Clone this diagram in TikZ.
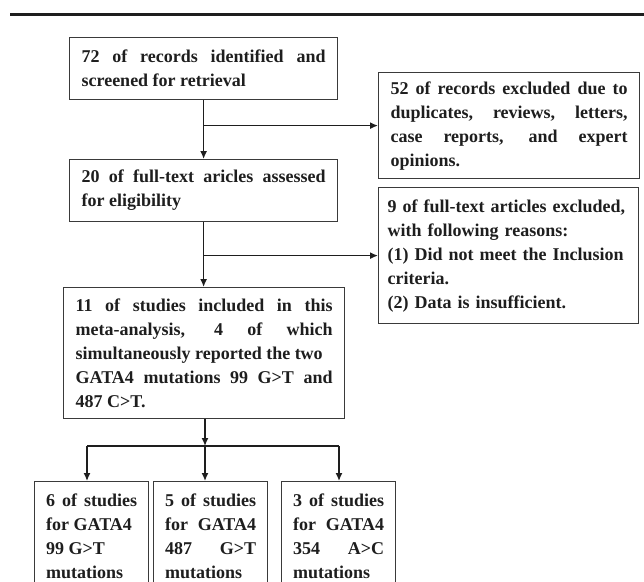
\documentclass[tikz,border=0pt]{standalone}
\usepackage{fontspec}
\setmainfont{Liberation Serif}
\usepackage{xcolor}
\usetikzlibrary{arrows.meta}
\definecolor{boxgray}{HTML}{3A3A3A}
\definecolor{ink}{HTML}{1E1E1E}
\hyphenpenalty=10000
\exhyphenpenalty=10000

\begin{document}
\begin{tikzpicture}[x=1pt, y=1pt,
    box/.style={draw=boxgray, line width=1.2pt, anchor=north west, inner xsep=12pt, inner ysep=4pt,
        align=justify, text=ink, font=\bfseries\fontsize{18}{24}\selectfont},
    leaf/.style={box, inner xsep=11.5pt, text width=91pt, minimum height=109pt},
    arr/.style={draw=ink, line width=1.4pt, -{Latex[length=8pt, width=7pt]}},
    link/.style={draw=ink, line width=1.4pt}]
    \useasboundingbox (0,0) rectangle (644,-581);
    \clip (0,0) rectangle (644,-581);

    % top rule
    \draw[ink, line width=3.4pt] (10,-14.5) -- (644,-14.5);

    % main column
    \node[box, text width=244pt, minimum height=62pt] (recs) at (69,-37)
        {72 of records identified and\linebreak screened for retrieval};
    \node[box, text width=244pt, minimum height=62pt] (full) at (69,-159)
        {20 of full-text aricles assessed\linebreak for eligibility};
    \node[box, text width=257pt, minimum height=131pt] (incl) at (63,-287)
        {11 of studies included in this\linebreak meta-analysis, 4 of which\linebreak
         simultaneously reported the two\newline GATA4 mutations 99 G>T and\linebreak 487 C>T.};

    % excluded records
    \node[box, text width=237pt, minimum height=106pt] (dupl) at (378,-72)
        {52 of records excluded due to\linebreak duplicates, reviews, letters,\linebreak
         case reports, and expert\linebreak opinions.};
    \node[box, inner xsep=9pt, text width=242pt, minimum height=136pt, align=left] (excl) at (378,-187)
        {9 of full-text articles excluded,\\ with following reasons:\\
         (1) Did not meet the Inclusion\\ criteria.\\ (2) Data is insufficient.};

    % mutation subgroups
    \node[leaf] (gtA) at (34,-481) {6 of studies\linebreak for GATA4\newline 99 G>T\newline mutations};
    \node[leaf] (gtB) at (153,-481) {5 of studies\linebreak for GATA4\linebreak 487 G>T\linebreak mutations};
    \node[leaf] (gtC) at (281,-481) {3 of studies\linebreak for GATA4\linebreak 354 A>C\linebreak mutations};

    % connectors
    \draw[arr] (recs.south) -- (full.north);
    \draw[arr] (recs.south |- dupl.west) -- (dupl.west);
    \draw[arr] (full.south) -- (full.south |- incl.north);
    \draw[arr] (full.south |- excl.west) -- (excl.west);

    \coordinate (split) at (205,-446);
    \coordinate (splitL) at (87,-446);
    \coordinate (splitR) at (339,-446);
    \draw[arr] (incl.south -| split) -- (split);
    \draw[link] (splitL) -- (splitR);
    \draw[arr] (splitL) -- (splitL |- gtA.north);
    \draw[arr] (split) -- (split |- gtB.north);
    \draw[arr] (splitR) -- (splitR |- gtC.north);
\end{tikzpicture}
\end{document}
